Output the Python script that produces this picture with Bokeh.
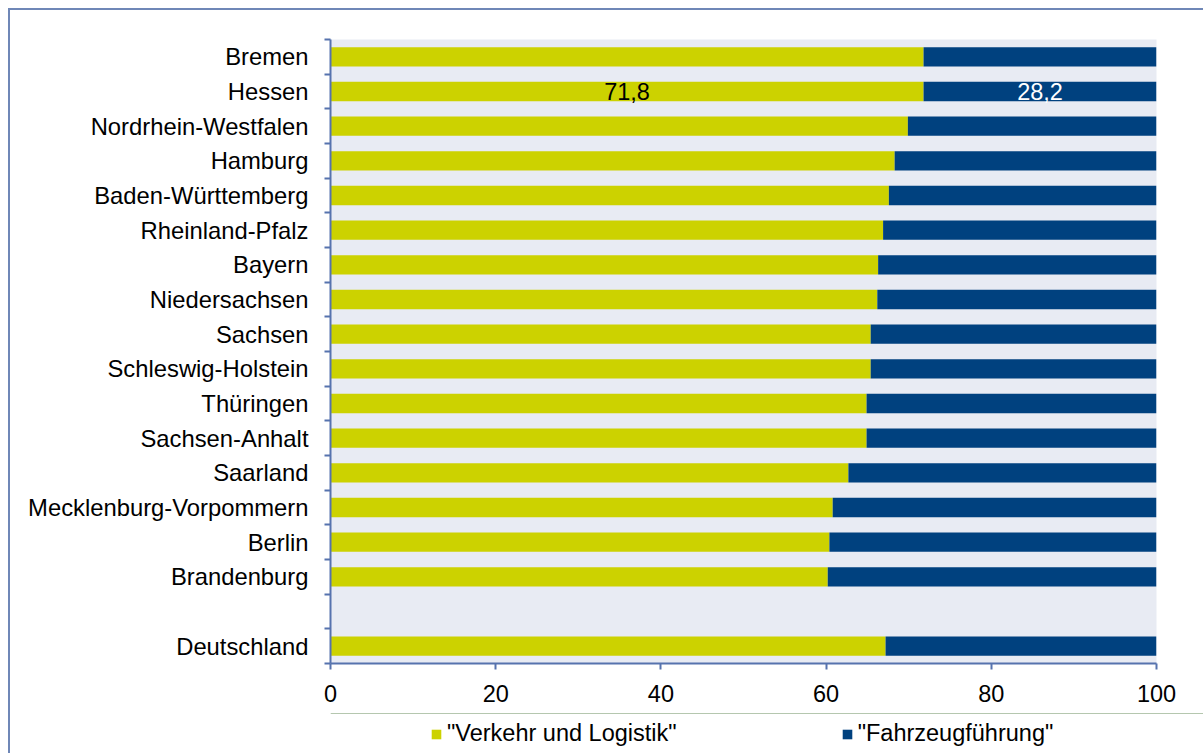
from bokeh.plotting import figure
from bokeh.layouts import column
from bokeh.models import (ColumnDataSource, FixedTicker, CustomJSTickFormatter,
                          Legend, LegendItem)
from bokeh.embed import file_html
from bokeh.resources import INLINE
from bokeh.core.properties import value

# Anteile der Ausbildungsberufe je Bundesland (in %), von oben nach unten
states = ["Bremen", "Hessen", "Nordrhein-Westfalen", "Hamburg", "Baden-Württemberg",
          "Rheinland-Pfalz", "Bayern", "Niedersachsen", "Sachsen", "Schleswig-Holstein",
          "Thüringen", "Sachsen-Anhalt", "Saarland", "Mecklenburg-Vorpommern", "Berlin",
          "Brandenburg"]
verkehr_logistik = [71.8, 71.8, 69.9, 68.3, 67.6, 66.9, 66.3, 66.2, 65.4, 65.4,
                    64.9, 64.9, 62.7, 60.8, 60.4, 60.2]
fahrzeugfuehrung = [28.2, 28.2, 30.1, 31.7, 32.4, 33.1, 33.7, 33.8, 34.6, 34.6,
                    35.1, 35.1, 37.3, 39.2, 39.6, 39.8]

total_name = "Deutschland"
total_verkehr = 67.2
total_fahrzeug = 32.8

series_names = ['"Verkehr und Logistik"', '"Fahrzeugführung"']
x_ticks = [0, 20, 40, 60, 80, 100]
labelled_state = "Hessen"

# --- layout of the rows: states, one empty row, then the national total ---
rows = states + [""] + [total_name]
n_rows = len(rows)
row_y = {name: n_rows - i - 0.5 for i, name in enumerate(rows)}

bar_names = states + [total_name]
v1 = verkehr_logistik + [total_verkehr]
v2 = fahrzeugfuehrung + [total_fahrzeug]
src = ColumnDataSource(dict(
    y=[row_y[n] for n in bar_names],
    v1=v1,
    end=[a + b for a, b in zip(v1, v2)],
))

GREEN = "#CCD200"
NAVY = "#00417F"
AXIS = "#5673AE"
FRAME = "#6F87B7"
FONT = "Liberation Sans"
FS = "23.5px"
FS_CAT = "23.8px"
W = 1193

p = figure(frame_width=826, frame_height=624, x_range=(0, 100), y_range=(0, n_rows),
           output_backend="svg", toolbar_location=None,
           min_border_left=320, min_border_top=29, min_border_right=47,
           min_border_bottom=50)
p.background_fill_color = "#E8EBF3"
p.border_fill_color = "white"
p.outline_line_color = None
p.grid.visible = False

r1 = p.hbar(y="y", left=0, right="v1", height=0.56, source=src,
            fill_color=GREEN, line_color=None)
r2 = p.hbar(y="y", left="v1", right="end", height=0.56, source=src,
            fill_color=NAVY, line_color=None)

# value labels for one state
i = states.index(labelled_state)
a, b = verkehr_logistik[i], fahrzeugfuehrung[i]
yl = row_y[labelled_state]
p.text(x=[a / 2], y=[yl], text=[f"{a:.1f}".replace(".", ",")],
       text_align="center", text_baseline="middle", text_color="black",
       text_font=value(FONT), text_font_size=FS)
p.text(x=[a + b / 2], y=[yl], text=[f"{b:.1f}".replace(".", ",")],
       text_align="center", text_baseline="middle", text_color="white",
       text_font=value(FONT), text_font_size=FS)

# x axis
xa = p.xaxis[0]
xa.ticker = FixedTicker(ticks=x_ticks)
xa.axis_line_color = AXIS
xa.axis_line_width = 2
xa.major_tick_line_color = AXIS
xa.major_tick_line_width = 2
xa.major_tick_out = 6
xa.major_tick_in = 0
xa.minor_tick_line_color = None
xa.major_label_standoff = 15
xa.major_label_text_font = FONT
xa.major_label_text_font_size = FS
xa.major_label_text_color = "black"

# y axis: names at row centres, tick marks between rows
ya = p.yaxis[0]
ya.ticker = FixedTicker(ticks=[row_y[n] for n in rows],
                        minor_ticks=list(range(n_rows + 1)))
ya.formatter = CustomJSTickFormatter(args=dict(names=rows[::-1]),
                                     code="return names[Math.floor(tick)];")
ya.axis_line_color = AXIS
ya.axis_line_width = 2
ya.major_tick_line_color = None
ya.major_tick_out = 0
ya.major_tick_in = 0
ya.minor_tick_line_color = AXIS
ya.minor_tick_line_width = 2
ya.minor_tick_out = 6
ya.minor_tick_in = 0
ya.major_label_standoff = 16
ya.major_label_text_font = FONT
ya.major_label_text_font_size = FS_CAT
ya.major_label_text_color = "black"

# legend strip under the chart
lf = figure(frame_width=W, frame_height=40, x_range=(0, 1), y_range=(0, 1),
            output_backend="svg", toolbar_location=None,
            x_axis_location=None, y_axis_location=None,
            min_border_left=0, min_border_right=0, min_border_top=0,
            min_border_bottom=0)
lf.outline_line_color = None
lf.grid.visible = False
lf.background_fill_color = "white"
lf.border_fill_color = "white"
k1 = lf.hbar(y=[5], left=[0], right=[1], height=0.5, fill_color=GREEN, line_color=None)
k2 = lf.hbar(y=[5], left=[0], right=[1], height=0.5, fill_color=NAVY, line_color=None)

legend = Legend(items=[LegendItem(label=series_names[0], renderers=[k1]),
                       LegendItem(label=series_names[1], renderers=[k2])],
                orientation="horizontal", location=(420, 6),
                glyph_width=12, glyph_height=12, label_standoff=5, spacing=164,
                padding=0, margin=0, border_line_color=None,
                background_fill_alpha=0, label_text_font=FONT,
                label_text_font_size=FS, label_text_color="black")
lf.add_layout(legend, "center")

page = column(p, lf, spacing=0,
              styles={"margin-left": "8px", "margin-top": "8px",
                      "border-left": f"2px solid {FRAME}",
                      "border-top": f"2px solid {FRAME}"})

open("out.html", "w").write(file_html(page, INLINE))
